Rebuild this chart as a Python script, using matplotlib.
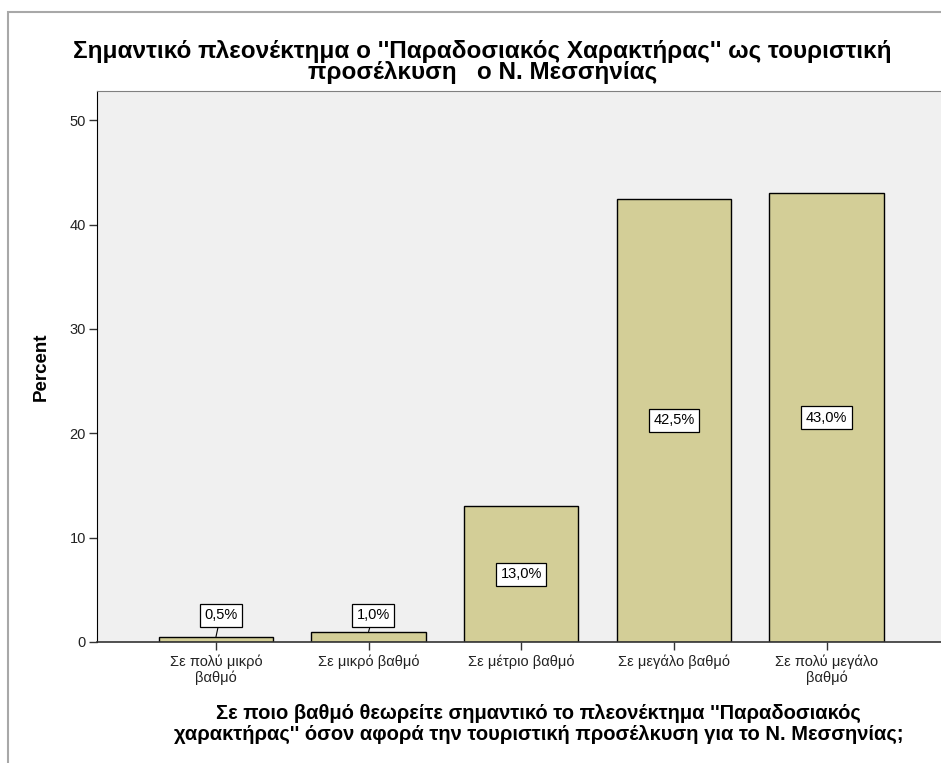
import matplotlib as mpl
mpl.use("Agg")
import matplotlib.pyplot as plt
from matplotlib.patches import Rectangle

categories = ["Σε πολύ μικρό\nβαθμό", "Σε μικρό βαθμό", "Σε μέτριο βαθμό",
              "Σε μεγάλο βαθμό", "Σε πολύ μεγάλο\nβαθμό"]
percent = [0.5, 1.0, 13.0, 42.5, 43.0]
bar_labels = ["0,5%", "1,0%", "13,0%", "42,5%", "43,0%"]
yticks = [0, 10, 20, 30, 40, 50]

title = "Σημαντικό πλεονέκτημα ο ''Παραδοσιακός Χαρακτήρας'' ως τουριστική\nπροσέλκυση   ο Ν. Μεσσηνίας"
xlabel = "Σε ποιο βαθμό θεωρείτε σημαντικό το πλεονέκτημα ''Παραδοσιακός\nχαρακτήρας'' όσον αφορά την τουριστική προσέλκυση για το Ν. Μεσσηνίας;"

plt.rcParams['font.family'] = ['Liberation Sans', 'DejaVu Sans']

fig = plt.figure(figsize=(9.41, 7.63), dpi=100)
ax = fig.add_axes([0.103, 0.1586, 0.897, 0.7221])

# outer chart frame
fig.add_artist(Rectangle((0.008, -0.1), 1.2, 1.084, transform=fig.transFigure,
                         fill=False, edgecolor="#a8a8a8", linewidth=1.5))

ax.set_facecolor("#f0f0f0")
x = list(range(len(categories)))
ax.bar(x, percent, width=0.75, color="#d3ce97", edgecolor="black", linewidth=1, zorder=2)

for xi, v, lab in zip(x, percent, bar_labels):
    box = dict(boxstyle="square,pad=0.3", facecolor="white", edgecolor="black", linewidth=0.9)
    if v < 5:
        ax.annotate(lab, xy=(xi, v), xytext=(xi + 0.03, 2.55), ha="center", va="center",
                    fontsize=10.5, bbox=box, zorder=4,
                    arrowprops=dict(arrowstyle="-", color="black", lw=0.8, shrinkA=0, shrinkB=0))
    else:
        ax.text(xi, v / 2, lab, ha="center", va="center", fontsize=10.5, bbox=box, zorder=4)

ax.set_xlim(-0.78, 4.75)
ax.set_ylim(0, 52.8)
ax.set_yticks(yticks)
ax.set_xticks(x)
ax.set_xticklabels(categories, fontsize=10.5, linespacing=1.1)
ax.tick_params(axis="y", labelsize=10.5, length=6, width=1, color="#333333", pad=2, labelcolor="#222222")
ax.tick_params(axis="x", length=6, width=1, color="#333333", pad=3, labelcolor="#222222")

ax.spines["top"].set_color("#808080")
ax.spines["right"].set_visible(False)
ax.spines["left"].set_color("black")
ax.spines["bottom"].set_color("#333333")
ax.spines["bottom"].set_linewidth(1.2)

ax.set_ylabel("Percent", fontsize=13.5, fontweight="bold", labelpad=14)
fig.text(0.572, 0.051, xlabel, ha="center", va="center", fontsize=14.5, fontweight="bold",
         linespacing=1.1, multialignment="center")
fig.text(0.513, 0.919, title, ha="center", va="center", fontsize=17.5, fontweight="bold",
         linespacing=0.9)

plt.savefig("out.png")
